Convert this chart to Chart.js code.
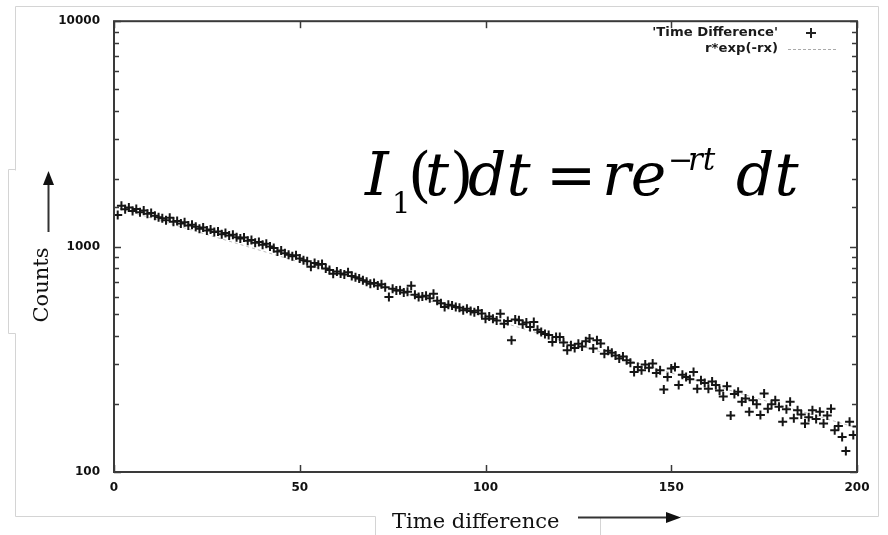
<!DOCTYPE html>
<html><head><meta charset="utf-8">
<script src="https://cdn.jsdelivr.net/npm/chart.js@4/dist/chart.umd.min.js"></script>
<style>html,body{margin:0;padding:0;background:#fff}#wrap{width:888px;height:535px;position:relative}</style>
</head><body><div id="wrap"><canvas id="c" width="888" height="535" style="width:888px;height:535px"></canvas></div>
<script>
// ---- data ----
const timeBins = [
  1,2,3,4,5,6,7,8,9,10, 11,12,13,14,15,16,17,18,19,20,
  21,22,23,24,25,26,27,28,29,30, 31,32,33,34,35,36,37,38,39,40,
  41,42,43,44,45,46,47,48,49,50, 51,52,53,54,55,56,57,58,59,60,
  61,62,63,64,65,66,67,68,69,70, 71,72,73,74,75,76,77,78,79,80,
  81,82,83,84,85,86,87,88,89,90, 91,92,93,94,95,96,97,98,99,100,
  101,102,103,104,105,106,107,108,109,110, 111,112,113,114,115,116,117,118,119,120,
  121,122,123,124,125,126,127,128,129,130, 131,132,133,134,135,136,137,138,139,140,
  141,142,143,144,145,146,147,148,149,150, 151,152,153,154,155,156,157,158,159,160,
  161,162,163,164,165,166,167,168,169,170, 171,172,173,174,175,176,177,178,179,180,
  181,182,183,184,185,186,187,188,189,190, 191,192,193,194,195,196,197,198,199,200
];
const counts = [
  1380,1518,1465,1490,1440,1470,1420,1445,1400,1410,
  1372,1350,1335,1310,1342,1290,1300,1265,1282,1240,
  1250,1225,1200,1215,1180,1190,1160,1168,1135,1148,
  1120,1128,1100,1085,1098,1062,1070,1040,1048,1020,
  1030,1000,985,950,962,935,920,905,915,885,
  870,860,815,845,830,838,800,788,757,775,
  760,752,770,740,731,722,710,698,684,690,
  672,680,660,597,650,638,640,625,630,670,
  612,597,600,605,590,617,575,560,539,552,
  548,540,535,522,530,518,512,521,505,479,
  490,478,470,504,455,468,384,475,471,452,
  461,440,463,428,418,410,405,377,397,397,
  375,347,365,355,371,360,380,391,353,384,
  372,335,345,338,329,319,325,313,305,278,
  292,283,300,290,303,275,283,232,264,288,
  292,243,270,264,258,278,234,255,248,234,
  252,243,230,216,240,178,222,227,205,212,
  185,208,200,179,223,191,200,208,195,167,
  190,205,173,188,180,164,175,188,172,185,
  164,178,191,153,160,143,124,167,146,159
];
const fitX = [0, 50, 100, 150, 200];
const fitY = [1500, 853, 485, 275, 157];
const xTickValues = [0, 50, 100, 150, 200];
const yMajorTicks = [100, 1000, 10000];
const seriesNames = ["'Time Difference'", "r*exp(-rx)"];
const xTitle = "Time difference";
const yTitle = "Counts";

const points = timeBins.map((t, i) => ({x: t, y: counts[i]}));
const fitLine = fitX.map((t, i) => ({x: t, y: fitY[i]}));

function line(ctx, x1, y1, x2, y2){ ctx.beginPath(); ctx.moveTo(x1,y1); ctx.lineTo(x2,y2); ctx.stroke(); }

const decor = {
  id: 'decor',
  beforeDraw(chart){
    const ctx = chart.ctx;
    ctx.save();
    ctx.fillStyle = '#fff'; ctx.fillRect(0,0,chart.width,chart.height);
    ctx.strokeStyle = '#d4d4d4'; ctx.lineWidth = 1;
    ctx.beginPath();
    ctx.moveTo(15.5,170.5); ctx.lineTo(15.5,6.5); ctx.lineTo(878.5,6.5); ctx.lineTo(878.5,516.5); ctx.lineTo(680,516.5);
    ctx.moveTo(15.5,333.5); ctx.lineTo(15.5,516.5); ctx.lineTo(375.5,516.5); ctx.lineTo(375.5,535);
    ctx.moveTo(15.5,169.5); ctx.lineTo(8.5,169.5); ctx.lineTo(8.5,333.5); ctx.lineTo(15.5,333.5);
    ctx.moveTo(600.5,517); ctx.lineTo(600.5,535);
    ctx.stroke();
    ctx.restore();
  },
  afterDraw(chart){
    const {ctx, chartArea: a, scales: {x, y}} = chart;
    ctx.save();
    // frame
    ctx.strokeStyle = '#3a3a3a'; ctx.lineWidth = 2;
    ctx.strokeRect(a.left, a.top, a.right - a.left, a.bottom - a.top);
    // inside ticks
    ctx.lineWidth = 1.5;
    y.ticks.forEach(t => {
      const py = Math.round(y.getPixelForValue(t.value)) + 0.5;
      const L = yMajorTicks.includes(t.value) ? 7 : 5;
      line(ctx, a.left, py, a.left + L, py);
      line(ctx, a.right, py, a.right - L, py);
    });
    x.ticks.forEach(t => {
      const px = Math.round(x.getPixelForValue(t.value)) + 0.5;
      line(ctx, px, a.bottom, px, a.bottom - 7);
      line(ctx, px, a.top, px, a.top + 7);
    });
    // legend
    ctx.fillStyle = '#1a1a1a';
    ctx.font = 'bold 12px "DejaVu Sans"';
    ctx.textAlign = 'right'; ctx.textBaseline = 'middle';
    ctx.save(); ctx.translate(778, 0); ctx.scale(1.1, 1);
    ctx.fillText(seriesNames[0], 0, 33);
    ctx.fillText(seriesNames[1], 0, 49);
    ctx.restore();
    ctx.strokeStyle = '#222'; ctx.lineWidth = 2;
    line(ctx, 806, 33, 816, 33); line(ctx, 811, 28, 811, 38);
    ctx.strokeStyle = '#aaa'; ctx.lineWidth = 1; ctx.setLineDash([3,2]);
    line(ctx, 788, 49.5, 836, 49.5);
    ctx.setLineDash([]);
    // y title + arrow
    ctx.fillStyle = '#111';
    ctx.font = '21px "DejaVu Serif"';
    ctx.save();
    ctx.translate(48, 285); ctx.rotate(-Math.PI/2);
    ctx.textAlign = 'center'; ctx.textBaseline = 'alphabetic';
    ctx.fillText(yTitle, 0, 0);
    ctx.restore();
    ctx.strokeStyle = '#333'; ctx.lineWidth = 2;
    line(ctx, 48.5, 232, 48.5, 182);
    ctx.beginPath(); ctx.moveTo(48.5,171); ctx.lineTo(43,185); ctx.lineTo(54,185); ctx.closePath(); ctx.fillStyle='#111'; ctx.fill();
    // x title + arrow
    ctx.fillStyle = '#111';
    ctx.textAlign = 'left'; ctx.textBaseline = 'alphabetic';
    ctx.fillText(xTitle, 392, 528);
    line(ctx, 578, 517.5, 668, 517.5);
    ctx.beginPath(); ctx.moveTo(681,517.5); ctx.lineTo(666,512); ctx.lineTo(666,523); ctx.closePath(); ctx.fill();
    // formula
    const it = 'italic 60px "DejaVu Serif"', up = '60px "DejaVu Serif"';
    const pieces = [
      ['I', it, 365, 195], ['1', '29px "DejaVu Serif"', 392, 213], ['(', up, 408, 195], ['t', it, 425, 195],
      [')', up, 450, 195], ['dt', it, 468, 195], ['=', up, 546, 195], ['re', it, 602, 195],
      ['\u2212', '30px "DejaVu Serif"', 668, 170], ['rt', 'italic 31px "DejaVu Serif"', 688, 170], ['dt', it, 736, 195]
    ];
    ctx.fillStyle = '#000';
    pieces.forEach(p => { ctx.font = p[1]; ctx.fillText(p[0], p[2], p[3]); });
    ctx.restore();
  }
};

new Chart(document.getElementById('c'), {
  type: 'scatter',
  data: {
    datasets: [
      { label: seriesNames[0], data: points, pointStyle: 'cross', pointRadius: 4.5, borderColor: '#151515', backgroundColor: '#151515', borderWidth: 2, showLine: false },
      { label: seriesNames[1], data: fitLine, showLine: true, pointRadius: 0, borderColor: '#bdbdbd', borderWidth: 1, borderDash: [3,3] }
    ]
  },
  options: {
    responsive: false, animation: false,
    devicePixelRatio: 1,
    layout: { padding: { top: 20, right: 31, left: 0, bottom: 0 } },
    plugins: { legend: { display: false }, tooltip: { enabled: false } },
    scales: {
      x: {
        type: 'linear', min: 0, max: 200,
        afterBuildTicks: s => { s.ticks = xTickValues.map(v => ({value: v})); },
        afterFit: s => { s.height = 63; },
        grid: { display: false, drawTicks: false },
        border: { display: false },
        ticks: { padding: 9, color: '#111', font: { family: 'DejaVu Sans', weight: 'bold', size: 12 }, maxRotation: 0, autoSkip: false }
      },
      y: {
        type: 'logarithmic', min: 100, max: 10000,
        afterFit: s => { s.width = 114; },
        grid: { display: false, drawTicks: false },
        border: { display: false },
        ticks: { padding: 14, autoSkip: false, color: '#111', font: { family: 'DejaVu Sans', weight: 'bold', size: 12 },
          callback: v => yMajorTicks.includes(v) ? String(v) : '' }
      }
    }
  },
  plugins: [decor]
});
</script></body></html>
